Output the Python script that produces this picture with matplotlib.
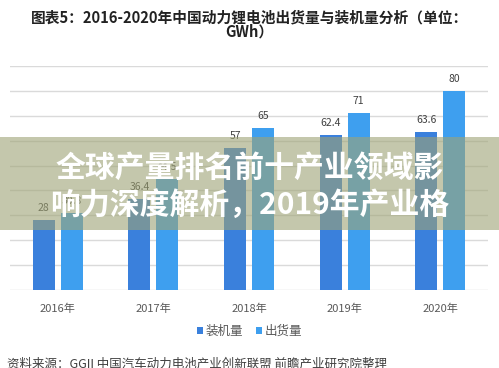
import matplotlib.pyplot as plt
from matplotlib.patches import Rectangle
import numpy as np

plt.rcParams['font.family'] = ['Noto Sans CJK SC', 'DejaVu Sans']

# data
years = ['2016年', '2017年', '2018年', '2019年', '2020年']
installed = [28, 36.4, 57, 62.4, 63.6]      # 装机量
shipped = [30.8, 44.5, 65, 71, 80]          # 出货量
series_names = ['装机量', '出货量']

dark_blue = '#3A80DC'
light_blue = '#3E9FEF'

fig = plt.figure(figsize=(4.99, 3.68), dpi=100)
ax = fig.add_axes([10 / 499, 1 - 290 / 368, 478 / 499, (290 - 66) / 368])

x = np.arange(len(years))
w = 0.23
off = 0.146
b1 = ax.bar(x - off, installed, w, color=dark_blue, label=series_names[0], zorder=3)
b2 = ax.bar(x + off, shipped, w, color=light_blue, label=series_names[1], zorder=3)

for bars, vals in ((b1, installed), (b2, shipped)):
    for r, v in zip(bars, vals):
        ax.annotate('{:g}'.format(v), (r.get_x() + r.get_width() / 2, v),
                    xytext=(0, 5), textcoords='offset points',
                    ha='center', va='bottom', fontsize=7.5, color='#404040')

ax.set_xlim(-0.5, len(years) - 0.5)
ax.set_ylim(0, 90)
ax.set_yticks(np.arange(0, 91, 10))
ax.yaxis.grid(True, color='#DADADA', linewidth=1)
ax.set_axisbelow(True)
ax.tick_params(axis='y', left=False, labelleft=False)
ax.tick_params(axis='x', bottom=False, labelsize=8, labelcolor='#595959', pad=6)
ax.set_xticks(x)
ax.set_xticklabels(years)
for s in ax.spines.values():
    s.set_visible(False)

# title
fig.text(0.5, 1 - 17 / 368, '图表5：2016-2020年中国动力锂电池出货量与装机量分析（单位：',
         ha='center', va='center', fontsize=10.6, fontweight='bold', color='#222222')
fig.text(0.5, 1 - 32 / 368, 'GWh）', ha='center', va='center',
         fontsize=10.6, fontweight='bold', color='#222222')

# legend
fig.legend(handles=[b1, b2], labels=series_names, loc='center',
           bbox_to_anchor=(0.5, 1 - 331 / 368), ncol=2, frameon=False,
           fontsize=9, handlelength=0.5, handleheight=0.5,
           handletextpad=0.2, columnspacing=1.0, labelcolor='#595959')

# source (cut by the bottom edge, as in the original)
fig.text(7 / 499, 1 - 358 / 368, '资料来源：GGII 中国汽车动力电池产业创新联盟 前瞻产业研究院整理',
         ha='left', va='top', fontsize=9, color='#404040')

# overlay banner
fig.patches.append(Rectangle((0, 1 - 230 / 368), 1, 93 / 368, transform=fig.transFigure,
                             facecolor=(0.62, 0.64, 0.46), alpha=0.6, edgecolor='none',
                             zorder=10))
fig.text(0.5, 1 - 168 / 368, '全球产量排名前十产业领域影', ha='center', va='center',
         fontsize=21.5, fontweight='bold', color='white', zorder=11)
fig.text(0.5, 1 - 205 / 368, '响力深度解析，2019年产业格', ha='center', va='center',
         fontsize=21.5, fontweight='bold', color='white', zorder=11)

fig.savefig('out.png', dpi=100)
